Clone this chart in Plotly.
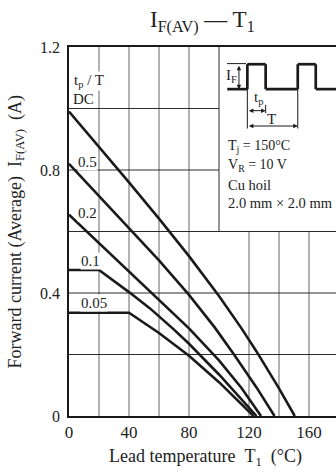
import plotly.graph_objects as go

# ---- data ----
x_dc = [0, 20, 40, 60, 80, 100, 115, 125, 140, 150.5]
y_dc = [0.99, 0.876, 0.76, 0.642, 0.52, 0.39, 0.285, 0.21, 0.09, 0.0]

x_05 = [0, 20, 40, 60, 80, 97, 110, 125, 137]
y_05 = [0.82, 0.716, 0.612, 0.506, 0.394, 0.289, 0.2, 0.093, 0.0]

x_02 = [0, 20, 40, 60, 80, 100, 115, 128]
y_02 = [0.655, 0.563, 0.471, 0.379, 0.285, 0.181, 0.091, 0.0]

x_01 = [0, 20, 40, 54, 70, 80, 100, 125]
y_01 = [0.475, 0.475, 0.403, 0.35, 0.281, 0.235, 0.135, 0.0]

x_005 = [0, 40, 60, 80, 100, 123]
y_005 = [0.336, 0.336, 0.27, 0.196, 0.11, 0.0]

series = [("DC", x_dc, y_dc), ("0.5", x_05, y_05), ("0.2", x_02, y_02),
          ("0.1", x_01, y_01), ("0.05", x_005, y_005)]

x_ticks = [0, 40, 80, 120, 160]
y_ticks = [0, 0.4, 0.8, 1.2]
x_grid = [20, 40, 60, 80, 120, 140, 160]
y_grid = [0.2, 0.4, 0.6, 0.8, 1.0]

X_MAX = 178
INSET_X = 100
INSET_Y = 0.6

FONT = "Liberation Serif"
INK = "#1a1a1a"
TXT = "#222222"
NB = "\u00a0"

fig = go.Figure()
for name, xs, ys in series:
    fig.add_trace(go.Scatter(x=xs, y=ys, mode="lines", name=name,
                             line=dict(color=INK, width=2.6),
                             showlegend=False, hoverinfo="skip"))

shapes = []
for gx in x_grid:
    top = 1.2 if gx < INSET_X else INSET_Y
    shapes.append(dict(type="line", x0=gx, x1=gx, y0=0, y1=top, xref="x", yref="y",
                       line=dict(color="#666666", width=1), layer="below"))
for gy in y_grid:
    right = X_MAX if gy <= INSET_Y else INSET_X
    shapes.append(dict(type="line", x0=0, x1=right, y0=gy, y1=gy, xref="x", yref="y",
                       line=dict(color="#2a2a2a", width=1), layer="below"))
shapes.append(dict(type="line", x0=INSET_X, x1=INSET_X, y0=INSET_Y, y1=1.2,
                   line=dict(color="#2a2a2a", width=1), layer="below"))

# pulse waveform illustration
wx = [105.5, 118.9, 118.9, 131.1, 131.1, 152.5, 152.5, 164.5, 164.5, 178]
wy = [1.063, 1.063, 1.144, 1.144, 1.063, 1.063, 1.144, 1.144, 1.063, 1.063]
for i in range(len(wx) - 1):
    shapes.append(dict(type="line", x0=wx[i], x1=wx[i + 1], y0=wy[i], y1=wy[i + 1],
                       line=dict(color=INK, width=2.7)))
thin = dict(color=INK, width=1)
shapes.append(dict(type="line", x0=105.3, x1=118, y0=1.146, y1=1.146, line=thin))
shapes.append(dict(type="line", x0=118.9, x1=118.9, y0=1.063, y1=0.935, line=thin))
shapes.append(dict(type="line", x0=131.1, x1=131.1, y0=1.012, y1=0.985, line=thin))
shapes.append(dict(type="line", x0=152.5, x1=152.5, y0=1.063, y1=0.935, line=thin))

fig.update_layout(shapes=shapes)

ann = []
def label(text, x, y, size=15, bg=True, xanchor="left"):
    ann.append(dict(text=text, x=x, y=y, xref="x", yref="y", showarrow=False,
                    xanchor=xanchor, yanchor="middle",
                    font=dict(family=FONT, size=size, color=TXT),
                    bgcolor="white" if bg else None, borderpad=0))

label("t<sub>p</sub> / T", 2.5, 1.089)
label("DC", 2.0, 1.031)
label("0.5", 5.3, 0.826)
label("0.2", 5.3, 0.66)
label("0.1", 7.3, 0.504)
label("0.05", 7.3, 0.367)

label("T<sub>j</sub> = 150°C", 105.3, 0.876, size=14, bg=False)
label("V<sub>R</sub> = 10 V", 105.3, 0.815, size=14, bg=False)
label("Cu hoil", 105.3, 0.751, size=14.5, bg=False)
label("2.0 mm × 2.0 mm", 105.3, 0.693, size=14.5, bg=False)
label("I<sub>F</sub>", 108.3, 1.105, size=15, bg=False, xanchor="center")
label("t<sub>p</sub>", 126.5, 1.035, size=15, bg=False, xanchor="center")
label("T", 135.3, 0.967, size=15, bg=False, xanchor="center")

def dim_arrow(x0, y0, x1, y1):
    ann.append(dict(x=x1, y=y1, ax=x0, ay=y0, xref="x", yref="y", axref="x", ayref="y",
                    text="", showarrow=True, arrowhead=2, arrowside="end+start",
                    arrowsize=0.9, arrowwidth=1, arrowcolor=INK, standoff=0, startstandoff=0))

dim_arrow(113.3, 1.144, 113.3, 1.063)
dim_arrow(118.9, 0.993, 131.1, 0.993)
dim_arrow(118.9, 0.943, 152.5, 0.943)

ann.append(dict(text="I<sub>F(AV)</sub> — T<sub>1</sub>", x=0.5, y=1 + (47 - 21) / 369,
                xref="paper", yref="paper", showarrow=False, xanchor="center",
                yanchor="middle", font=dict(family=FONT, size=23, color=TXT)))
ann.append(dict(text="Lead temperature" + NB * 2 + "T<sub>1</sub>" + NB * 2 + "(°C)",
                x=(205 - 69) / 267, y=(416 - 457) / 369, xref="paper", yref="paper",
                showarrow=False, xanchor="center", yanchor="middle",
                font=dict(family=FONT, size=18, color=TXT)))
ann.append(dict(text="Forward current (Average)" + NB * 2 + "I<sub>F(AV)</sub>" + NB * 2 + "(A)",
                x=(16 - 69) / 267, y=0.5, xref="paper", yref="paper", showarrow=False,
                xanchor="center", yanchor="middle", textangle=-90,
                font=dict(family=FONT, size=18, color=TXT)))

fig.update_layout(annotations=ann)

fig.update_layout(
    width=336, height=474,
    margin=dict(l=69, r=0, t=47, b=58),
    paper_bgcolor="white", plot_bgcolor="white",
    font=dict(family=FONT, size=16, color=TXT),
    xaxis=dict(range=[0, X_MAX], tickvals=x_ticks, showgrid=False, zeroline=False,
               showline=True, linecolor=INK, linewidth=1.5, mirror=True,
               ticks="", tickfont=dict(family=FONT, size=17, color=TXT)),
    yaxis=dict(range=[0, 1.2], tickvals=y_ticks, ticktext=["0", "0.4", "0.8", "1.2"],
               showgrid=False, zeroline=False,
               showline=True, linecolor=INK, linewidth=1.5,
               ticks="outside", ticklen=4, tickcolor="rgba(0,0,0,0)",
               tickfont=dict(family=FONT, size=16, color=TXT)),
)

fig.write_html("out.html")
